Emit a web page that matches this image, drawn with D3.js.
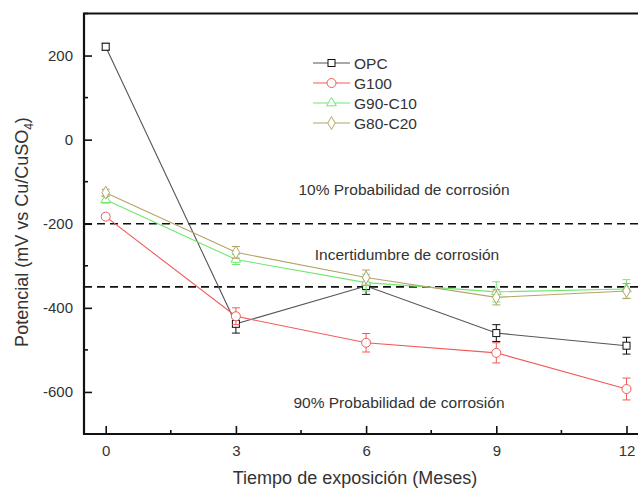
<!DOCTYPE html>
<html>
<head>
<meta charset="utf-8">
<script src="https://cdn.jsdelivr.net/npm/d3@7"></script>
<style>
  body { margin: 0; background: #fff; }
  svg text { font-family: "Liberation Sans", Arial, sans-serif; }
</style>
</head>
<body>
<div id="chart"></div>
<script>
// data
var months = [0, 3, 6, 9, 12];
var seriesNames = ["OPC", "G100", "G90-C10", "G80-C20"];
var opc = [221, -438, -348, -460, -490];
var opcErr = [8, 22, 20, 20, 20];
var g100 = [-183, -420, -483, -507, -593];
var g100Err = [6, 20, 22, 24, 26];
var g90 = [-143, -285, -340, -362, -355];
var g90Err = [8, 12, 20, 24, 22];
var g80 = [-126, -268, -328, -375, -360];
var g80Err = [8, 14, 18, 18, 18];
var xTicks = [0, 3, 6, 9, 12];
var yTicks = [-600, -400, -200, 0, 200];
var limits = [-200, -350];
var zoneLabels = ["10% Probabilidad de corrosión", "Incertidumbre de corrosión", "90% Probabilidad de corrosión"];
var zoneValues = [-132, -286, -638];

var colors = ["#555555", "#f25a5a", "#6ee86e", "#b3a468"];
var markers = ["square", "circle", "triangle", "diamond"];
var allSeries = [
  {name: seriesNames[0], y: opc, e: opcErr},
  {name: seriesNames[1], y: g100, e: g100Err},
  {name: seriesNames[2], y: g90, e: g90Err},
  {name: seriesNames[3], y: g80, e: g80Err}
];

var svgWidth = 638, svgHeight = 491;
var plotLeft = 84, plotTop = 13.5, plotBottom = 434;

var svg = d3.select("#chart").append("svg")
  .attr("width", svgWidth).attr("height", svgHeight);

var x = d3.scaleLinear().domain([-0.5, 12.5]).range([plotLeft, plotLeft + 13 * 43.4]);
var y = d3.scaleLinear().domain([-700, 300]).range([plotBottom, plotTop]);

// dashed limit lines
svg.selectAll(".limit").data(limits).enter().append("line")
  .attr("x1", plotLeft).attr("x2", svgWidth)
  .attr("y1", d => y(d)).attr("y2", d => y(d))
  .attr("stroke", "#111").attr("stroke-width", 1.6)
  .attr("stroke-dasharray", "8,5");

// zone labels
svg.selectAll(".zone").data(zoneLabels).enter().append("text")
  .attr("x", (d, i) => [404, 407, 399][i])
  .attr("y", (d, i) => y(zoneValues[i]))
  .attr("text-anchor", "middle")
  .attr("font-size", 15.5).attr("fill", "#333")
  .text(d => d);

// axes (ticks inside)
var xAxis = d3.axisBottom(x).tickValues(xTicks).tickSize(-8).tickPadding(11).tickFormat(d3.format("d"));
var yAxis = d3.axisLeft(y).tickValues(yTicks).tickSize(-8).tickPadding(11).tickFormat(d3.format("d"));

var gx = svg.append("g").attr("transform", "translate(0," + plotBottom + ")").call(xAxis);
var gy = svg.append("g").attr("transform", "translate(" + plotLeft + ",0)").call(yAxis);
[gx, gy].forEach(function(g) {
  g.select(".domain").remove();
  g.selectAll("line").attr("stroke", "#111").attr("stroke-width", 1.6);
  g.selectAll("text").attr("font-size", 15).attr("fill", "#333")
    .style("font-family", "'Liberation Sans', Arial, sans-serif");
});
gy.selectAll("text").text(d => d < 0 ? "-" + Math.abs(d) : d);

// minor ticks
var xMinor = d3.range(1.5, 12.5, 3);
svg.selectAll(".xminor").data(xMinor).enter().append("line")
  .attr("x1", d => x(d)).attr("x2", d => x(d))
  .attr("y1", plotBottom).attr("y2", plotBottom - 4)
  .attr("stroke", "#111").attr("stroke-width", 1.6);
var yMinor = d3.range(-700, 301, 200);
svg.selectAll(".yminor").data(yMinor).enter().append("line")
  .attr("x1", plotLeft).attr("x2", plotLeft + 4)
  .attr("y1", d => y(d)).attr("y2", d => y(d))
  .attr("stroke", "#111").attr("stroke-width", 1.6);

// frame
svg.append("path")
  .attr("d", "M" + (svgWidth + 5) + "," + plotTop + "H" + plotLeft + "V" + plotBottom + "H" + (svgWidth + 5))
  .attr("fill", "none").attr("stroke", "#111").attr("stroke-width", 2.2);

// series
var line = d3.line().x((d, i) => x(months[i])).y(d => y(d));

function marker(g, type, color, cx, cy) {
  if (type === "square") {
    g.append("rect").attr("x", cx - 3.5).attr("y", cy - 3.5).attr("width", 7).attr("height", 7)
      .attr("fill", "#fff").attr("stroke", "#111").attr("stroke-width", 1);
  } else if (type === "circle") {
    g.append("circle").attr("cx", cx).attr("cy", cy).attr("r", 4.5)
      .attr("fill", "#fff").attr("stroke", color).attr("stroke-width", 1);
  } else if (type === "triangle") {
    g.append("path").attr("d", d3.symbol(d3.symbolTriangle, 40)())
      .attr("transform", "translate(" + cx + "," + cy + ")")
      .attr("fill", "#fff").attr("stroke", color).attr("stroke-width", 1);
  } else {
    g.append("path").attr("d", d3.symbol(d3.symbolDiamond, 48)())
      .attr("transform", "translate(" + cx + "," + cy + ")")
      .attr("fill", "#fff").attr("stroke", color).attr("stroke-width", 1);
  }
}

allSeries.forEach(function(s, k) {
  var g = svg.append("g");
  var barColor = k === 0 ? "#111" : colors[k];
  g.append("path").datum(s.y).attr("d", line)
    .attr("fill", "none").attr("stroke", colors[k]).attr("stroke-width", 1.1);
  s.y.forEach(function(v, i) {
    var cx = x(months[i]);
    g.append("line").attr("x1", cx).attr("x2", cx)
      .attr("y1", y(v - s.e[i])).attr("y2", y(v + s.e[i]))
      .attr("stroke", barColor).attr("stroke-width", 1);
    [v - s.e[i], v + s.e[i]].forEach(function(c) {
      g.append("line").attr("x1", cx - 4).attr("x2", cx + 4)
        .attr("y1", y(c)).attr("y2", y(c))
        .attr("stroke", barColor).attr("stroke-width", 1);
    });
  });
  s.y.forEach(function(v, i) {
    marker(g, markers[k], colors[k], x(months[i]), y(v));
  });
});

// legend
var legend = svg.append("g");
seriesNames.forEach(function(n, k) {
  var ly = 63 + k * 20;
  legend.append("line").attr("x1", 313).attr("x2", 350).attr("y1", ly).attr("y2", ly)
    .attr("stroke", colors[k]).attr("stroke-width", 1.1);
  marker(legend, markers[k], colors[k], 331.5, ly);
  legend.append("text").attr("x", 354).attr("y", ly + 5.5)
    .attr("font-size", 15.5).attr("fill", "#333").text(n);
});

// axis titles
svg.append("text").attr("x", 355).attr("y", 484)
  .attr("text-anchor", "middle").attr("font-size", 18).attr("fill", "#333")
  .text("Tiempo de exposición (Meses)");

var yt = svg.append("text")
  .attr("transform", "translate(28,232) rotate(-90)")
  .attr("text-anchor", "middle").attr("font-size", 18).attr("fill", "#333");
yt.append("tspan").text("Potencial (mV vs Cu/CuSO");
yt.append("tspan").attr("font-size", 12).attr("dy", 5).text("4");
yt.append("tspan").attr("dy", -5).text(")");
</script>
</body>
</html>
